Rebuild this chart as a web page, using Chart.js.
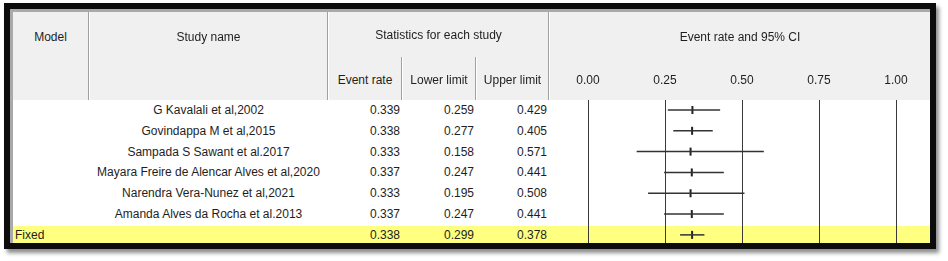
<!DOCTYPE html>
<html>
<head>
<meta charset="utf-8">
<script src="https://cdn.jsdelivr.net/npm/chart.js@4"></script>
<style>
body{margin:0;background:#fff;font-family:"Liberation Sans",Arial,sans-serif;font-size:12px;color:#1e1e1e;width:948px;height:261px;overflow:hidden;}
#frame{position:absolute;left:4px;top:3px;width:920px;height:234px;border:6px solid #0c0c0c;box-shadow:3px 4px 4px rgba(0,0,0,0.45);background:#fff;}
#inner{position:absolute;left:10px;top:9px;width:920px;height:234px;box-sizing:border-box;border-left:3px solid #a9a9a9;border-top:3px solid #a9a9a9;}
#head{position:absolute;left:13px;top:12px;width:917px;height:88px;background:#f0f0f0;}
#fixedband{position:absolute;left:13px;top:226px;width:917px;height:17px;background:#ffff80;}
.vsep{position:absolute;width:0;border-left:1px solid #a0a0a0;border-right:1px solid #fff;}
.cell{position:absolute;height:16px;line-height:16px;white-space:nowrap;}
#plot{position:absolute;left:549px;top:60px;}
</style>
</head>
<body>

<div id="frame"></div>
<div id="inner"></div>
<div id="head"></div>
<div id="fixedband"></div>
<canvas id="plot" width="381" height="183"></canvas>

<script>

/* DATA */

const studies=[
"G Kavalali et al,2002",
"Govindappa M et al,2015",
"Sampada S Sawant et al.2017",
"Mayara Freire de Alencar Alves et al,2020",
"Narendra Vera-Nunez et al,2021",
"Amanda Alves da Rocha et al.2013"
];

const eventRate=[0.339,0.338,0.333,0.337,0.333,0.337];
const lowerLimit=[0.259,0.277,0.158,0.247,0.195,0.247];
const upperLimit=[0.429,0.405,0.571,0.441,0.508,0.441];

const fixedLabel="Fixed";
const fixedRate=0.338;
const fixedLower=0.299;
const fixedUpper=0.378;

const axisTicks=[0,0.25,0.5,0.75,1];


/* TEXT HELPERS */

function addText(txt,x,w,cy,align){
const d=document.createElement("div");
d.className="cell";
d.style.left=x+"px";
d.style.width=w+"px";
d.style.top=(cy-8)+"px";
d.style.textAlign=align;
d.textContent=txt;
document.body.appendChild(d);
}

function addSep(x,top,h){
const d=document.createElement("div");
d.className="vsep";
d.style.left=x+"px";
d.style.top=top+"px";
d.style.height=h+"px";
document.body.appendChild(d);
}


/* HEADER */

addSep(88,12,88);
addSep(327,12,88);
addSep(548,12,88);
addSep(401,57,43);
addSep(475,57,43);

addText("Model",13,75,37,"center");
addText("Study name",90,237,37,"center");
addText("Statistics for each study",329,219,35,"center");
addText("Event rate",329,72,80,"center");
addText("Lower limit",403,72,80,"center");
addText("Upper limit",477,71,80,"center");
addText("Event rate and 95% CI",550,380,37,"center");


/* ROWS */

function rowY(i){ return 110+20.8*i; }

studies.forEach((name,i)=>{
addText(name,90,237,rowY(i),"center");
addText(eventRate[i].toFixed(3),328,72,rowY(i),"right");
addText(lowerLimit[i].toFixed(3),402,72,rowY(i),"right");
addText(upperLimit[i].toFixed(3),476,71,rowY(i),"right");
});

const fi=studies.length;
addText(fixedLabel,15,60,rowY(fi)+0.5,"left");
addText(fixedRate.toFixed(3),328,72,rowY(fi),"right");
addText(fixedLower.toFixed(3),402,72,rowY(fi),"right");
addText(fixedUpper.toFixed(3),476,71,rowY(fi),"right");


/* FOREST PLOT */

const allLower=lowerLimit.concat([fixedLower]);
const allUpper=upperLimit.concat([fixedUpper]);
const allRate=eventRate.concat([fixedRate]);

const datasets=allLower.map((lo,i)=>({
data:[{x:lo,y:i},{x:allUpper[i],y:i}],
showLine:true,
borderColor:"#333",
borderWidth:1.5,
pointRadius:0
}));

datasets.push({
data:allRate.map((v,i)=>({x:v,y:i})),
showLine:false,
pointStyle:"line",
rotation:90,
pointRadius:4,
borderWidth:2,
borderColor:"#222"
});

new Chart(document.getElementById("plot"),{

type:"scatter",

data:{datasets:datasets},

options:{
responsive:false,
animation:false,
devicePixelRatio:1,
layout:{autoPadding:false,padding:{left:39,right:34,top:14,bottom:0}},
plugins:{legend:{display:false},tooltip:{enabled:false}},
scales:{
x:{
type:"linear",
position:"top",
min:0,
max:1,
afterBuildTicks:(scale)=>{ scale.ticks=axisTicks.map(v=>({value:v})); },
afterFit:(scale)=>{ scale.height=26; },
ticks:{
callback:(v)=>Number(v).toFixed(2),
color:"#1e1e1e",
font:{family:"Liberation Sans",size:12},
padding:12,
maxRotation:0,
autoSkip:false
},
grid:{drawTicks:false,color:"#3a3a3a",lineWidth:1},
border:{display:false}
},
y:{
type:"linear",
reverse:true,
min:-0.48,
max:6.39,
display:false
}
}
}

});

</script>
</body>
</html>
